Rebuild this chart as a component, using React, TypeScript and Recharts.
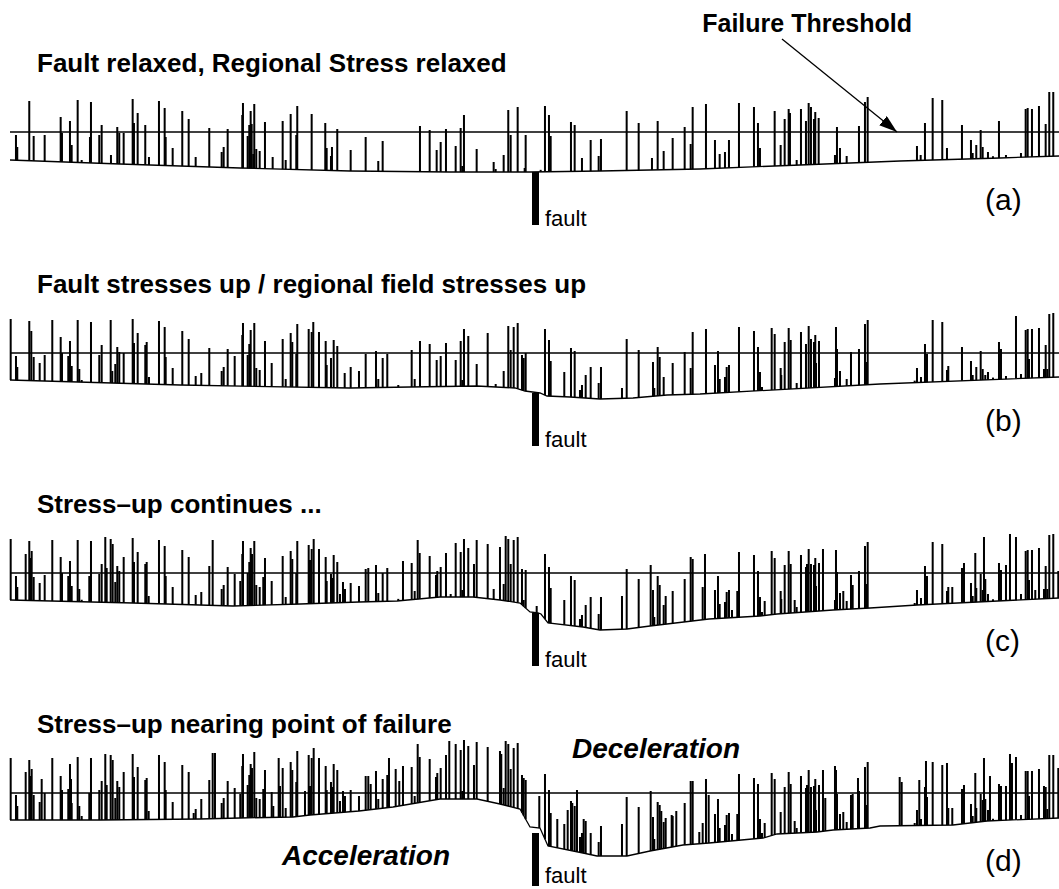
import { Bar, ComposedChart, Line, ReferenceArea, ReferenceLine, XAxis, YAxis } from "recharts";

// stress values are read relative to the failure threshold (0), positive = above it

// ---- panel (a) ----
const spikeXA = [16, 17.3, 29.3, 33.7, 44.7, 60.7, 62, 70, 71.7, 77.7, 81.7, 90, 91, 99.3, 101.7, 111, 117.3, 119.3, 123.7, 132.7, 134, 137.7, 145.3, 149, 159, 164.7, 165.7, 172.7, 182.3, 188.7, 195.7, 209.3, 221.7, 223.7, 227.7, 242.3, 243, 247.7, 249.3, 250.7, 251.7, 253.3, 254.3, 256.3, 259.7, 265, 272.7, 282.7, 285.7, 290.7, 296.3, 297.3, 311.7, 325.3, 326.7, 331, 332, 337.3, 350.7,
  365.7, 378.3, 382.7, 420, 429.7, 436.7, 440.7, 446, 455.7, 460.7, 462.3, 464, 476.7, 493.7, 495.7, 503.7, 508.3, 510.7, 517.7, 524.7, 525.7, 540.7, 545, 549, 550.7, 571, 574.7, 582, 590.7, 598.7, 601, 626.7, 638.7, 652, 657.7, 663.7, 672.7, 684.7, 690.7, 692.7, 706,
  715, 719.7, 725, 729, 739, 754, 758, 760, 774.7, 780.7, 784.7, 788.7, 790, 796.7, 801, 806, 808.7, 811, 814, 815.3, 818.7, 835, 837, 840, 846.7, 859, 865, 867.7, 917, 920.7, 925, 932.7, 942.3, 947, 962, 971, 972.7, 976.3, 980.7, 982.7, 988, 993, 999, 1006, 1021, 1025.7, 1027.7, 1032, 1039, 1045.7, 1049.3, 1053.3];
const spikeTopA = [-3, -15, 31, -4, -3, 15, -1, 11, -13, 32, -28, -5, 30, -3, 7, -23, 5, -1, -1, 33, 9, 19, 7, -25, 31, 24, -5, -16, 21, 13, -25, 4, -20, -15, 3, 17, 29, -4, 7, 21, 8, -22, 28, -17, -19, 10, -25, 11, -28, 18, -3, 26, 18, 9, -16, -24, -15, 3, -18,
  -5, -29, -9, 6, 2, -18, -10, 3, -14, 4, -34, 17, -17, -30, -37, -23, 22, -3, 25, -36, -3, -39, 26, 17, -4, 10, 7, -26, -8, -24, -7, 21, 9, -26, 11, -19, -6, 5, -12, 25, 28,
  -8, -22, -20, -8, 29, 25, 9, -16, 21, -13, 13, 23, 19, -28, 23, 11, 29, 25, 13, 20, 14, -23, 5, -16, -24, 6, 30, 35, -14, -23, 9, 34, 32, -16, 7, -8, -21, -13, 2, -15, -20, -25, 11, -23, -21, 23, 24, 23, 26, 8, 40, 40];
const baseXA = [10, 120, 240, 350, 450, 530, 600, 700, 800, 900, 1000, 1059];
const baseA = [-28, -32, -36, -39, -40, -40, -39, -37, -33, -29, -26, -24];

// ---- panel (b) ----
const spikeXB = [10.7, 16, 17.3, 29.3, 31.3, 33.7, 39.7, 44.7, 52.3, 60.7, 62, 68.3, 70, 71.7, 77.7, 79.3, 81.7, 91, 99.3, 101.7, 110.7, 112.3, 115.3, 117.3, 119.3, 123.7, 132.7, 134, 137.7, 145.3, 146.7, 149, 159, 164.7, 165.7, 172.7, 182.3, 188.7, 195.7, 201.3, 209.3, 221.7, 223.7, 227.7, 234.7, 242.3, 243, 247.7, 249.3, 250.7, 254.3, 256.3, 259.7, 265, 271.7, 282.7, 285.7, 290.7, 292.3, 296.3, 297.3, 308.7, 311.7, 313.3, 319, 325.7, 326.7, 331, 333.7, 337.3, 344.7, 350.7, 359,
  365.7, 376, 378.3, 382.7, 387.3, 398.3, 411.7, 414.7, 420, 429.7, 436.7, 440.7, 446, 455.7, 460.7, 462.3, 464, 468.3, 476.7, 487.7, 495.7, 503.7, 508.3, 510.7, 513.7, 517.7, 522, 523.7, 525.7, 545, 549, 550.7, 564.3, 571, 574.7, 580, 582, 585.7, 590.7, 598.7, 601, 622, 626.7, 638.7, 653, 654.3, 657.7, 659.7, 663.7, 672.7, 684.7, 690.7, 692.7, 706,
  715, 718, 719.7, 725, 726.7, 729, 739, 754, 758, 760, 762, 771.7, 774.7, 780.7, 781.3, 784.7, 788.7, 790.7, 796.7, 801, 806, 808.7, 811, 814, 815.3, 816, 819, 835, 836, 837, 840, 846.7, 851, 859, 865, 866.3, 867.7, 914.7, 917, 921, 925, 927, 932.7, 942.3, 947, 948.3, 962, 971, 972.7, 976.3, 980.7, 982.7, 985.3, 988, 993, 999, 1001, 1006, 1016, 1021, 1025.7, 1027.7, 1029, 1032, 1039, 1044, 1045.7, 1047.3, 1049.3, 1053.3];
const spikeTopB = [34, -3, -14, 32, 22, -4, -10, -2, 33, 16, 0, -3, 12, -13, 33, -16, -27, 31, -2, 8, 33, -18, -11, 6, 1, 0, 34, 10, 20, 8, 11, -24, 32, 26, -4, -15, 22, 14, -23, -20, 5, -18, -14, 4, -3, 18, 30, -2, 9, 23, 30, -15, -17, 12, -10, 14, -26, 20, 11, -1, 29, 24, 21, 31, 21, 12, -12, -5, 13, 7, -20, -14, -18,
  -1, 2, -26, -5, -1, -32, 3, -26, 12, 9, -7, -3, 10, -7, 12, -27, 24, 17, -11, 20, -31, -18, 27, 3, 26, 30, -2, -5, 0, 24, 13, -8, -19, 5, 2, -37, -32, -22, -14, -30, -14, -35, 14, 3, -9, -35, 6, -4, -24, -10, 1, -15, 21, 24,
  -12, 2, -26, -24, -14, -12, 26, 22, 6, -19, -34, 25, 19, -15, -22, 11, 25, 13, -30, 21, 9, 27, 14, 11, 18, -10, 12, -25, 26, 4, -18, -26, 1, 4, 29, -9, 33, -28, -15, -24, 9, -1, 33, 31, -17, -13, 6, -8, -22, -14, 2, -16, -22, -19, -25, 11, 4, -23, 37, -21, 23, 24, -6, 24, 25, -16, 8, -16, 39, 40];
const baseXB = [10, 180, 350, 410, 477, 515, 525, 540, 547, 570, 600, 633, 667, 700, 880, 1059];
const baseB = [-27, -32, -35, -34, -33, -35, -38, -40, -43, -44, -46, -45, -42, -41, -31, -24];

// ---- panel (c) ----
const spikeXC = [10.7, 16, 17.3, 25.7, 29.3, 30.3, 31.7, 33.7, 39.7, 44.7, 52.3, 60.7, 62, 68.3, 70, 71.7, 77.7, 79.3, 81.7, 89.3, 91, 99.3, 101.7, 105.3, 106.7, 110.7, 112.7, 115.3, 117.3, 119.3, 123.7, 132.7, 134, 137.7, 145.3, 146.7, 148.7, 159, 164.7, 165.7, 172.7, 182.3, 188.7, 195.7, 201.3, 209.3, 212.7, 221.7, 223.7, 227.7, 234.7, 240.3, 242.3, 243, 247.7, 249.3, 250.7, 252, 254.3, 256.3, 259.7, 263.3, 265, 271.7, 282.7, 285.7, 290.7, 292.3, 296.3, 297.3, 308.7, 310, 311.7, 313.7, 319, 325.7, 326.7, 331, 332.3, 333.7, 337.3, 340, 343, 345, 350.7, 359,
  365.7, 368.3, 376, 378.3, 382.7, 387.3, 398.3, 403, 411.7, 414.7, 417.7, 419.7, 429.7, 436, 437.3, 440.7, 446, 450.7, 455.7, 460.7, 462.3, 464, 468.3, 474, 476.7, 487.7, 493.7, 500, 503.7, 505.7, 508.3, 510.7, 513.7, 517.7, 522, 523.7, 525.7, 536.7, 545, 549, 550.7, 564.3, 571, 574.7, 580, 582, 585.7, 590.7, 598.7, 601, 622, 626.7, 638.7, 650.7, 653, 654.3, 657.7, 659.7, 663.7, 665.7, 672.7, 684.7, 690.7, 692.7, 702.7,
  705, 715, 718, 719.7, 725, 726.7, 729, 732, 737.3, 739, 754, 758, 760, 762, 764.7, 771.7, 774.7, 780.7, 781.3, 784.7, 788.7, 790.7, 794.7, 796.7, 801, 806, 807, 808.7, 811, 814, 815.3, 816, 819, 823, 835, 836, 837, 840, 843.3, 846.7, 851, 852.7, 859, 865, 866.3, 867.7, 914.7, 917, 921, 925, 927, 932.7, 942.3, 947, 948.3, 952.3, 962, 964, 971, 972.7, 975.3, 976.3, 980.7, 982.7, 984, 985.3, 988, 993, 999, 1001, 1006, 1010, 1016, 1021, 1025.7, 1027.7, 1029, 1032, 1035.3, 1039, 1044, 1045.7, 1047.3, 1049.3, 1053.3, 1058.3];
const spikeTopC = [34, -3, -14, 19, 32, 15, 22, -4, -10, -2, 33, 16, 0, -3, 12, -13, 33, -16, -27, -3, 32, -1, 9, 36, 5, 34, 29, -9, 7, 2, 16, 35, 11, 21, 9, 11, -23, 33, 27, -3, -14, 23, 16, -22, -19, 7, 33, -16, -12, 6, -1, -8, 19, 32, 0, 11, 25, 19, 32, -12, -14, -4, 15, -8, 17, -24, 22, 14, 0, 32, 28, 13, 24, 34, 24, 16, -8, -1, -5, 18, 11, -21, -9, -16, -10, -13,
  4, 5, 8, -20, 0, 5, -26, 12, 10, -18, 33, 20, 17, -2, 2, 6, 20, -21, 30, 21, -17, 34, 25, 9, 33, 29, -16, 26, -11, 37, 34, 9, 33, 36, 4, -27, 3, -33, 19, 6, -15, -27, -3, -7, -46, -42, -32, -24, -41, -24, -23, 4, -6, 8, -17, -44, -3, -12, -32, -23, -18, -6, 16, 14, -14,
  19, -17, -3, -31, -29, -19, -17, -37, -18, 21, 18, 2, -24, -39, -28, 22, 15, -18, -26, 8, 22, 9, -27, -34, 18, 6, 9, 24, 9, 8, 15, -13, 10, 24, -27, 23, 1, -20, -18, -28, -2, -12, 2, 27, -11, 31, -30, -17, -25, 7, -3, 31, 29, -18, -14, -14, 5, 10, -10, -23, 20, -15, -1, -17, 36, -6, -21, -27, 10, 3, 8, 39, 36, -21, 22, 23, -7, 23, -17, 25, -16, 7, -16, 38, 39, 2];
const baseXC = [10, 133, 233, 300, 359, 397, 440, 473, 500, 520, 530, 538, 541, 548, 583, 600, 627, 650, 709, 760, 777, 833, 870, 917, 1059];
const baseC = [-27, -30, -33, -31, -29, -28, -24, -24, -27, -30, -39, -40, -41, -50, -54, -57, -56, -53, -46, -43, -41, -37, -35, -32, -25];

// ---- panel (d) ----
const spikeXD = [10.7, 16, 17.3, 25.7, 29.3, 30.3, 31.7, 33.7, 39.7, 41.7, 44.7, 52.3, 60.7, 62, 68.3, 70, 71, 71.7, 77.7, 79.3, 81.7, 89.3, 91, 99.3, 101.7, 105.3, 106.7, 110.7, 112.7, 115.3, 117.3, 119.3, 123.7, 132.7, 134, 137.7, 145.3, 146.7, 148.7, 159, 164.7, 165.7, 172.7, 182.3, 188.7, 193.7, 195.7, 201.3, 209.3, 212.7, 215, 221.7, 223.7, 227.7, 234.7, 240.3, 242.3, 243, 247.7, 249.3, 250.7, 252, 254.3, 256.3, 259.7, 263.3, 265, 271.7, 273.3, 278.7, 280, 282.7, 285.7, 290.7, 292.3, 296.3, 297.3, 305, 308.7, 310, 311.7, 313.7, 319, 325.7, 326.7, 331, 332.3, 333.7, 337.3, 340, 343, 345, 350.7, 359,
  365.7, 368.3, 370.7, 376, 378.3, 382.7, 387.3, 389, 395.7, 399.3, 403, 411.7, 414.7, 417.7, 419.7, 429.7, 436, 437.3, 440.7, 446, 449.3, 455.7, 460.7, 462.3, 464, 468.3, 474, 476.7, 487.7, 500, 501.3, 503.7, 505.7, 508.3, 510.7, 513.7, 517.7, 522, 523.7, 525.7, 539.3, 545, 549, 550.7, 557.3, 564.3, 567.7, 571, 572.3, 574.7, 577, 580, 582, 583.7, 585.7, 590.7, 598.7, 601, 622, 626.7, 638.7, 650.7, 653, 654.3, 657.7, 659.7, 661.3, 663.7, 665.7, 671.7, 672.7, 676.3, 684.7, 690.7, 692.7, 699.3, 702.7, 706,
  708.7, 715, 718, 719.7, 725, 726.7, 729, 732, 737.3, 739, 754, 758, 760, 762, 764.7, 771.7, 774.7, 780.7, 784.7, 788.7, 790.7, 794.7, 796.7, 801, 806, 807, 808.7, 811, 814, 815.3, 816, 819, 823, 825.3, 835, 836, 837, 840, 843.3, 846.7, 851, 852.7, 858, 859, 865, 866.3, 867.7, 899.7, 901.7, 914.7, 917, 919.3, 921, 925, 926, 927, 932.7, 942.3, 947, 948.3, 952.3, 962, 964, 971, 972.7, 975.3, 976.3, 980.7, 982.7, 984, 985.3, 988, 990, 993, 999, 1001, 1006, 1010, 1012, 1016, 1021, 1025.7, 1027.7, 1029, 1032, 1039, 1044, 1045.7, 1047.3, 1049.3, 1053.3, 1058.3];
const spikeTopD = [35, -2, -13, 21, 33, 17, 24, -2, -9, 14, 0, 35, 17, 3, 4, 29, 14, -10, 36, -13, -23, 0, 35, 3, 12, 39, 8, 38, 33, -5, 12, 6, 21, 39, 16, 26, 13, 15, -18, 38, 31, 3, -9, 28, 21, -20, -16, -6, 13, 40, 40, -10, -5, 12, 5, -1, 27, 39, 8, 18, 29, 25, 41, -5, -6, 4, 23, 1, -13, 35, 7, 25, -15, 31, 23, 11, 42, 2, 38, 7, 35, 45, 35, 27, 3, 11, 6, 29, 23, -8, 2, -3, 3, -3,
  17, 17, 9, 22, -6, 14, 18, 35, 24, 12, 27, 26, -3, 49, 36, 34, 16, 20, 25, 38, 52, 49, 43, 2, 53, 47, 28, 51, 46, 42, 39, 5, 52, 49, 24, 45, 50, 18, 15, 13, -3, 19, 3, -20, -26, -31, -17, -8, -10, -13, 3, -44, -40, -26, -28, -40, -49, -33, -31, -4, -14, 2, -24, -46, -9, -12, -18, -29, -25, -22, -23, -18, -10, 12, 12, -39, -30, 14,
  -2, -21, -6, -35, -32, -22, -20, -41, -21, 19, 15, 9, -26, -40, -30, 20, 14, -19, 6, 21, 9, -28, -35, 17, 5, 8, 23, 6, 7, 14, -17, 8, 23, -5, 27, 23, -1, -21, -19, -29, -2, -1, 15, 2, 26, -12, 31, 16, 11, -30, -17, 13, -26, 6, 32, -4, 31, 28, 30, -15, -15, 4, 8, -11, -23, 20, -15, -1, -7, 35, -6, -17, 17, -27, 9, 7, 7, 39, 30, 36, -22, 22, 22, -3, 22, 24, 7, 6, -16, 38, 38, 25];
const baseXD = [10, 100, 200, 240, 293, 310, 359, 393, 440, 477, 500, 520, 530, 540, 548, 583, 597, 627, 650, 683, 709, 763, 777, 817, 833, 870, 880, 953, 987, 1059];
const baseD = [-27, -27, -26, -25, -24, -22, -18, -14, -6, -6, -11, -16, -34, -35, -53, -60, -63, -63, -58, -52, -50, -45, -41, -39, -37, -35, -33, -32, -28, -25];

const titles = [
  "Fault relaxed, Regional Stress relaxed",
  "Fault stresses up / regional field stresses up",
  "Stress–up continues ...",
  "Stress–up nearing point of failure",
];
const letters = ["(a)", "(b)", "(c)", "(d)"];

const W = 1059;
const H = 230;
const lineY = [132, 353, 573, 793]; // page y of each threshold line
const font = "'Liberation Sans', Arial, Helvetica, sans-serif";

function baseAt(bx: number[], bv: number[], x: number) {
  if (x <= bx[0]) return bv[0];
  for (let i = 1; i < bx.length; i++) {
    if (x <= bx[i]) {
      const t = (x - bx[i - 1]) / (bx[i] - bx[i - 1]);
      return bv[i - 1] + t * (bv[i] - bv[i - 1]);
    }
  }
  return bv[bv.length - 1];
}

function buildRows(sx: number[], st: number[], bx: number[], bv: number[]) {
  const rows: any[] = bx.map((x, i) => ({ x, base: bv[i] }));
  sx.forEach((x, i) => {
    const b = baseAt(bx, bv, x);
    rows.push({ x, range: [b, Math.max(st[i], b + 2)] });
  });
  return rows.sort((a, b) => a.x - b.x);
}

const panels = [
  buildRows(spikeXA, spikeTopA, baseXA, baseA),
  buildRows(spikeXB, spikeTopB, baseXB, baseB),
  buildRows(spikeXC, spikeTopC, baseXC, baseC),
  buildRows(spikeXD, spikeTopD, baseXD, baseD),
];

const Spike = (p: any) => {
  const { x, y, width, height } = p;
  if (!isFinite(x) || !isFinite(y) || !isFinite(height) || height === 0) return null;
  const cx = x + (isFinite(width) ? width : 0) / 2;
  const top = Math.min(y, y + height);
  return <rect x={cx - 1} y={top} width={2} height={Math.abs(height)} fill="#000" />;
};

function Panel({ rows, top }: { rows: any[]; top: number }) {
  return (
    <div style={{ position: "absolute", left: 0, top, width: W, height: H }}>
      <ComposedChart width={W} height={H} data={rows} margin={{ top: 0, right: 0, bottom: 0, left: 0 }}>
        <XAxis type="number" dataKey="x" domain={[0, W]} hide allowDataOverflow />
        <YAxis type="number" domain={[-98, 132]} hide allowDataOverflow />
        <ReferenceArea x1={532} x2={539} y1={-93} y2={-40} fill="#000" fillOpacity={1} stroke="none" />
        <Bar dataKey="range" barSize={2} shape={Spike} isAnimationActive={false} />
        <Line dataKey="base" type="linear" stroke="#000" strokeWidth={1.3} dot={false} activeDot={false} connectNulls isAnimationActive={false} />
        <ReferenceLine segment={[{ x: 10, y: 0 }, { x: W, y: 0 }]} stroke="#000" strokeWidth={1.3} />
      </ComposedChart>
    </div>
  );
}

export default function App() {
  return (
    <div style={{ position: "absolute", left: 0, top: 0, width: W, height: 889, background: "#fff", overflow: "hidden" }}>
      {panels.map((rows, i) => (
        <Panel key={i} rows={rows} top={lineY[i] - 132} />
      ))}
      <svg width={W} height={889} style={{ position: "absolute", left: 0, top: 0, pointerEvents: "none" }} fontFamily={font}>
        <defs>
          <marker id="head" markerWidth={18} markerHeight={12} refX={18} refY={6} orient="auto" markerUnits="userSpaceOnUse">
            <path d="M0,0 L18,6 L0,12 Z" fill="#000" />
          </marker>
        </defs>
        <text x={912} y={32} textAnchor="end" fontSize={25} fontWeight="bold">Failure Threshold</text>
        <line x1={782} y1={39} x2={897} y2={132} stroke="#000" strokeWidth={1.3} markerEnd="url(#head)" />
        {lineY.map((ty, i) => (
          <g key={i}>
            <text x={37} y={ty - 60} fontSize={26} fontWeight="bold">{titles[i]}</text>
            <text x={985} y={ty + 78} fontSize={30}>{letters[i]}</text>
            <text x={545} y={i === 3 ? ty + 90 : ty + 94} fontSize={22}>fault</text>
          </g>
        ))}
        <text x={572} y={758} fontSize={28} fontWeight="bold" fontStyle="italic">Deceleration</text>
        <text x={282} y={865} fontSize={28} fontWeight="bold" fontStyle="italic">Acceleration</text>
      </svg>
    </div>
  );
}
